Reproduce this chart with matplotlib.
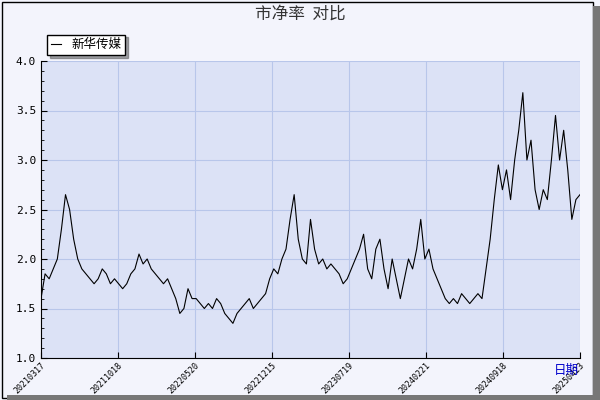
import matplotlib
matplotlib.use("Agg")
import matplotlib.pyplot as plt
import numpy as np
from matplotlib.ticker import MultipleLocator
plt.rcParams['font.family'] = ['Noto Sans CJK SC', 'DejaVu Sans']

values = [1.6,1.85,1.8,1.9,2.0,2.3,2.65,2.5,2.2,2.0,
          1.9,1.85,1.8,1.75,1.8,1.9,1.85,1.75,1.8,
          1.75,1.7,1.75,1.85,1.9,2.05,1.95,2.0,
          1.9,1.85,1.8,1.75,1.8,1.7,1.6,
          1.45,1.5,1.7,1.6,
          1.6,1.55,1.5,1.55,1.5,1.6,1.55,1.45,1.4,1.35,1.45,1.5,1.55,1.6,1.5,
          1.55,1.6,1.65,1.8,1.9,1.85,2.0,2.1,2.4,2.65,
          2.2,2.0,1.95,2.4,2.1,1.95,2.0,1.9,
          1.95,1.9,1.85,1.75,1.8,1.9,2.0,2.1,2.25,1.9,1.8,2.1,2.2,1.9,1.7,2.0,1.8,1.6,
          1.8,2.0,1.9,2.1,2.4,2.0,2.1,1.9,1.8,1.7,1.6,
          1.55,1.6,1.55,1.65,1.6,1.55,1.6,1.65,1.6,
          1.9,2.2,2.6,2.95,2.7,2.9,2.6,3.0,3.3,
          3.68,3.0,3.2,2.7,2.5,2.7,2.6,3.0,3.45,3.0,3.3,2.9,2.4,2.6,2.65]
tick_labels = ["20210317","20211018","20220520","20221215","20230719","20240221","20240918","20250423"]

fig = plt.figure(figsize=(6,4), dpi=100, facecolor='#f3f4fc')
ax = fig.add_axes([41/600, 1-358/400, 539/600, 297/400])
ax.set_facecolor('#dce2f6')
n = len(values)
ax.plot(np.arange(n), values, color='black', lw=0.8, label='新华传媒')
ax.set_xlim(0, n-1)
ax.set_ylim(1.0, 4.0)
ax.set_xticks(np.linspace(0, n-1, len(tick_labels)))
ax.set_xticklabels(tick_labels, rotation=45, fontsize=6, ha='right', va='top',
                   rotation_mode='anchor', family='DejaVu Sans Mono')
ax.yaxis.set_major_locator(MultipleLocator(0.5))
ax.yaxis.set_minor_locator(MultipleLocator(0.1))
ax.set_yticklabels([f"{v:.1f}" for v in ax.get_yticks()], fontsize=8, family='DejaVu Sans Mono')
ax.grid(True, color='#b8c6ea', lw=0.8)
for s in ['top','right']:
    ax.spines[s].set_visible(False)
ax.tick_params(direction='in', length=4)
ax.tick_params(axis='x', pad=2)
ax.tick_params(which='minor', direction='in', length=2)
leg = ax.legend(loc='upper left', bbox_to_anchor=(0, 1.11), fontsize=9, frameon=True, fancybox=False,
                handlelength=0.8, borderpad=0.3, shadow=True)
leg.get_frame().set_edgecolor('black')
fig.text(0.5, 0.965, '市净率  对比', ha='center', va='center', fontsize=12, color='#333333')
fig.text(0.965, 0.075, '日期', ha='right', va='center', fontsize=9, color='#0000cc')
fig.patches.append(plt.Rectangle((0.004,0.004),0.985,0.99, transform=fig.transFigure, fill=False, ec='black', lw=1))
fig.patches.append(plt.Rectangle((0.012,0.0),0.985,0.012, transform=fig.transFigure, fc='#777777', ec='none'))
fig.patches.append(plt.Rectangle((0.989,0.0),0.011,0.985, transform=fig.transFigure, fc='#777777', ec='none'))
fig.savefig('out.png', facecolor=fig.get_facecolor())
